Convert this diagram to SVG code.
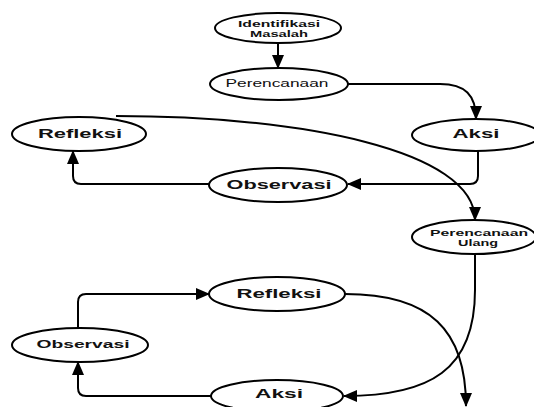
<svg xmlns="http://www.w3.org/2000/svg" width="534" height="407" viewBox="0 0 534 407">
<style>
.n{fill:#fff;stroke:#000;stroke-width:2}
.e{fill:none;stroke:#000;stroke-width:2}
text{font-family:"Liberation Sans",Arial,sans-serif;fill:#111;text-anchor:middle}
.b{font-weight:bold;font-size:12px}
.s{font-weight:bold;font-size:9px}
.t{font-size:10px}
</style>
<defs>
<marker id="a" markerUnits="userSpaceOnUse" markerWidth="14" markerHeight="14" viewBox="0 0 14 14" refX="13" refY="7" orient="auto">
<path d="M0,1 L14,7 L0,13 z" fill="#000"/>
</marker>
</defs>
<rect width="534" height="407" fill="#fff"/>
<g id="connectors">
<path class="e" d="M278,43 L278,68" marker-end="url(#a)"/>
<path class="e" d="M348,84 L440,84 C465,84 476,95 476,119" marker-end="url(#a)"/>
<path class="e" d="M478,151 L478,176 Q478,184 470,184 L348,184" marker-end="url(#a)"/>
<path class="e" d="M209,184 L81,184 Q73,184 73,176 L73,151" marker-end="url(#a)"/>
<path class="e" d="M116,116 C300,116 475,150 475,220" marker-end="url(#a)"/>
<path class="e" d="M78,328 L78,302 Q78,294 86,294 L209,294" marker-end="url(#a)"/>
<path class="e" d="M211,396 L86,396 Q78,396 78,388 L78,362" marker-end="url(#a)"/>
<path class="e" d="M475,255 L475,290 C475,370 430,396 344,396" marker-end="url(#a)"/>
<path class="e" d="M345,294 C430,294 466,330 466,406" marker-end="url(#a)"/>
</g>
<g id="identifikasi">
<ellipse class="n" cx="278" cy="28" rx="63" ry="15"/>
<text class="s" x="279" y="27" textLength="82" lengthAdjust="spacingAndGlyphs">Identifikasi</text>
<text class="s" x="279" y="37" textLength="58" lengthAdjust="spacingAndGlyphs">Masalah</text>
</g>
<g id="perencanaan">
<ellipse class="n" cx="279" cy="84" rx="69" ry="16"/>
<text class="t" x="277" y="87" textLength="103" lengthAdjust="spacingAndGlyphs">Perencanaan</text>
</g>
<g id="aksi1">
<ellipse class="n" cx="476" cy="135" rx="64" ry="16"/>
<text class="b" x="476" y="138" textLength="47" lengthAdjust="spacingAndGlyphs">Aksi</text>
</g>
<g id="refleksi1">
<ellipse class="n" cx="79" cy="134" rx="67" ry="17"/>
<text class="b" x="80" y="138" textLength="84" lengthAdjust="spacingAndGlyphs">Refleksi</text>
</g>
<g id="observasi1">
<ellipse class="n" cx="278" cy="185" rx="69" ry="17"/>
<text class="b" x="279" y="189" textLength="105" lengthAdjust="spacingAndGlyphs">Observasi</text>
</g>
<g id="perencanaan-ulang">
<ellipse class="n" cx="474" cy="237" rx="62" ry="17"/>
<text class="s" x="479" y="236" textLength="98" lengthAdjust="spacingAndGlyphs">Perencanaan</text>
<text class="s" x="478" y="246" textLength="40" lengthAdjust="spacingAndGlyphs">Ulang</text>
</g>
<g id="refleksi2">
<ellipse class="n" cx="277" cy="294" rx="68" ry="17"/>
<text class="b" x="279" y="298" textLength="85" lengthAdjust="spacingAndGlyphs">Refleksi</text>
</g>
<g id="observasi2">
<ellipse class="n" cx="80" cy="345" rx="68" ry="17"/>
<text class="t" x="83" y="348" textLength="93" lengthAdjust="spacingAndGlyphs" font-weight="bold">Observasi</text>
</g>
<g id="aksi2">
<ellipse class="n" cx="277" cy="396" rx="66" ry="16"/>
<text class="b" x="279" y="398" textLength="48" lengthAdjust="spacingAndGlyphs">Aksi</text>
</g>
</svg>
